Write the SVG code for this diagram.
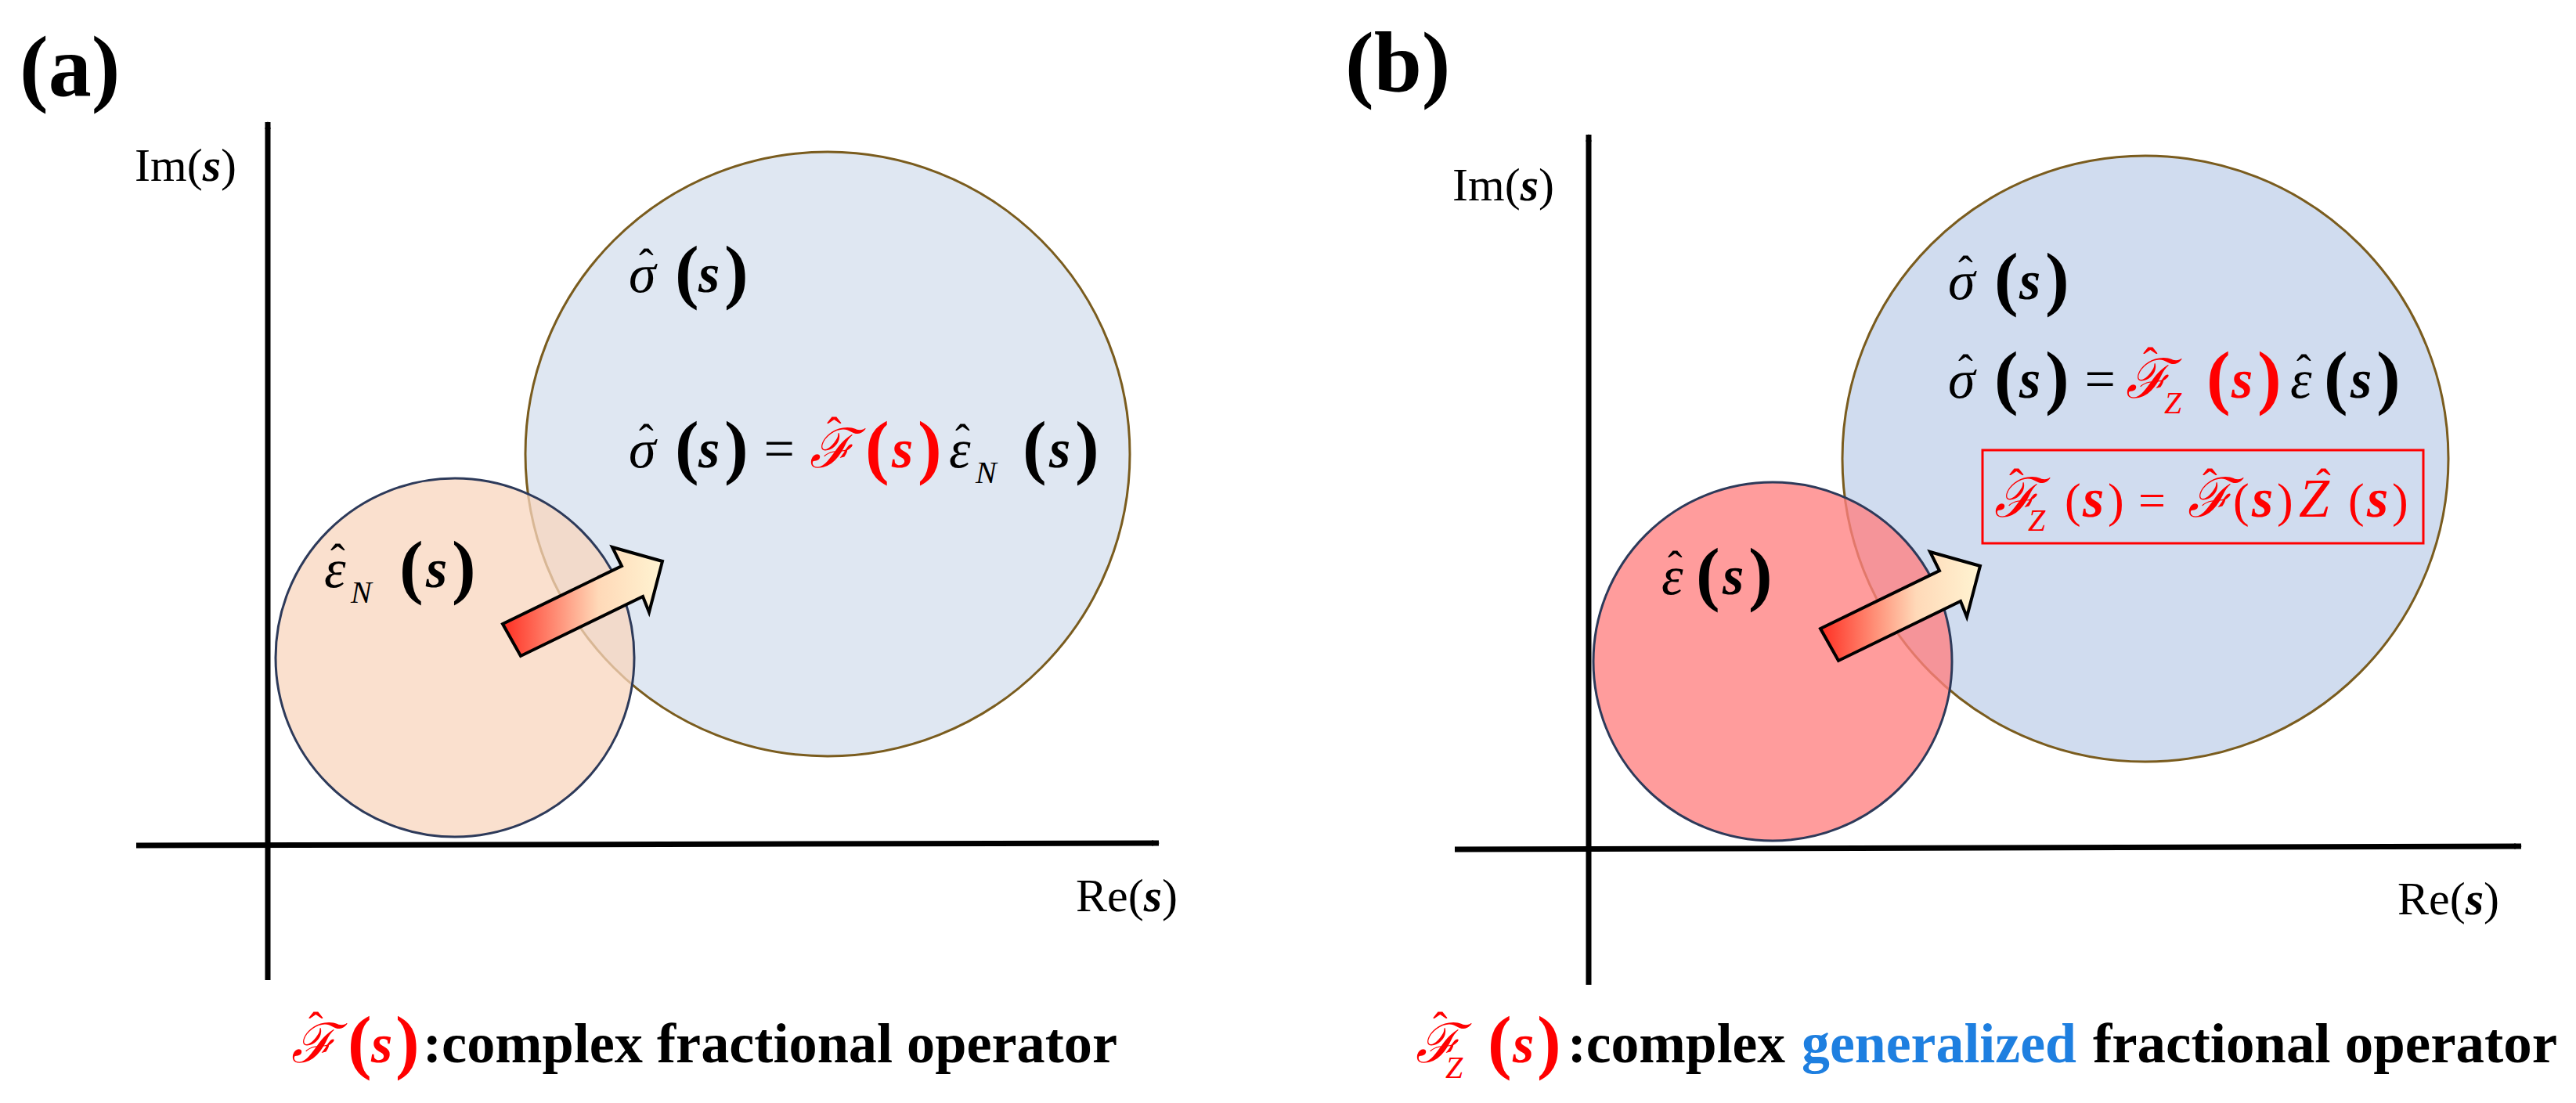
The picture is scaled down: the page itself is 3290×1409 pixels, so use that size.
<svg xmlns="http://www.w3.org/2000/svg" width="3290" height="1409" viewBox="0 0 3290 1409">
<style>
text{font-family:"Liberation Serif","Times New Roman","DejaVu Serif",serif}
.ax{stroke:#000;stroke-width:7;fill:none}
.lab{font-size:60px}
.pl{font-size:110px;font-weight:bold}
.m{font-size:70px;font-style:italic}
.p{font-size:92px;font-weight:bold}
.s{font-size:70px;font-weight:bold;font-style:italic}
.h{font-size:56px}
.sub{font-size:40px;font-style:italic}
.bt{font-size:72px;font-weight:bold}
.r{fill:#ff0000}
</style>
<defs>
<marker id="ah" markerWidth="10" markerHeight="8" refX="9" refY="4" orient="auto" markerUnits="userSpaceOnUse" viewBox="0 0 10 8"><path d="M0,0 L10,4 L0,8 L3,4z" fill="#000"/></marker>
<linearGradient id="ag" x1="0" y1="0" x2="1" y2="0" gradientUnits="objectBoundingBox"><stop offset="0" stop-color="#ff2e22"/><stop offset="0.6" stop-color="#ffd9b8"/><stop offset="1" stop-color="#fff4d2"/></linearGradient>
<path id="arr" d="M642,797 L794,723 L782,699 L846,717 L829,782 L821,762 L665,838 Z"/>
</defs>

<g id="panel-a">
<text class="pl" x="25" y="122">(a)</text>
<g id="a-sigma-circle"><circle cx="1057" cy="580" r="386" fill="#dfe7f2" stroke="#7a5c1e" stroke-width="3"/></g>
<g id="a-eps-circle"><circle cx="581" cy="840" r="229" fill="#f8d6bd" fill-opacity="0.75" stroke="#2d3a5a" stroke-width="3"/></g>
<g id="a-connectors">
<line class="ax" x1="342" y1="1252" x2="342" y2="156" marker-end="url(#ah)"/>
<line class="ax" x1="174" y1="1080" x2="1480" y2="1077" marker-end="url(#ah)"/>
<use href="#arr" fill="url(#ag)" stroke="#000" stroke-width="4"/>
</g>
<text class="lab" x="172" y="231">Im(<tspan font-weight="bold" font-style="italic">s</tspan>)</text>
<text class="lab" x="1374" y="1164">Re(<tspan font-weight="bold" font-style="italic">s</tspan>)</text>
<g id="a-sigma">
<text class="m" x="803" y="373">σ</text><text class="h" x="816" y="357">ˆ</text>
<text class="p" x="862" y="377">(</text><text class="s" x="892" y="373">s</text><text class="p" x="925" y="377">)</text>
</g>
<g id="a-eq">
<text class="m" x="803" y="597">σ</text><text class="h" x="816" y="581">ˆ</text>
<text class="p" x="862" y="601">(</text><text class="s" x="892" y="597">s</text><text class="p" x="925" y="601">)</text>
<text class="m" font-style="normal" x="971" y="597">=</text>
<text class="m r" x="1034" y="597">ℱ</text><text class="h r" x="1056" y="572">ˆ</text>
<text class="p r" x="1105" y="601">(</text><text class="s r" x="1139" y="597">s</text><text class="p r" x="1172" y="601">)</text>
<text class="m" x="1212" y="597">ε</text><text class="h" x="1220" y="581">ˆ</text><text class="sub" x="1246" y="617">N</text>
<text class="p" x="1306" y="601">(</text><text class="s" x="1340" y="597">s</text><text class="p" x="1373" y="601">)</text>
</g>
<g id="a-eps">
<text class="m" x="414" y="750">ε</text><text class="h" x="422" y="734">ˆ</text><text class="sub" x="448" y="770">N</text>
<text class="p" x="510" y="754">(</text><text class="s" x="544" y="750">s</text><text class="p" x="577" y="754">)</text>
</g>
<g id="a-caption">
<text class="m r" x="372" y="1357">ℱ</text><text class="h r" x="394" y="1332">ˆ</text>
<text class="p r" x="444" y="1361">(</text><text class="s r" x="474" y="1357">s</text><text class="p r" x="505" y="1361">)</text>
<text class="bt" x="540" y="1357" textLength="887" lengthAdjust="spacingAndGlyphs">:complex fractional operator</text>
</g>
</g>

<g id="panel-b">
<text class="pl" x="1718" y="117">(b)</text>
<g id="b-sigma-circle"><circle cx="2740" cy="586" r="387" fill="#d0dcef" stroke="#7a5c1e" stroke-width="3"/></g>
<g id="b-eps-circle"><circle cx="2264" cy="845" r="229" fill="#ff8080" fill-opacity="0.78" stroke="#2d3a5a" stroke-width="3"/></g>
<g id="b-connectors">
<line class="ax" x1="2029" y1="1258" x2="2029" y2="172" marker-end="url(#ah)"/>
<line class="ax" x1="1858" y1="1085" x2="3220" y2="1081" marker-end="url(#ah)"/>
<use href="#arr" transform="translate(1683,6)" fill="url(#ag)" stroke="#000" stroke-width="4"/>
</g>
<text class="lab" x="1855" y="256">Im(<tspan font-weight="bold" font-style="italic">s</tspan>)</text>
<text class="lab" x="3062" y="1168">Re(<tspan font-weight="bold" font-style="italic">s</tspan>)</text>
<g id="b-sigma">
<text class="m" x="2488" y="382">σ</text><text class="h" x="2501" y="366">ˆ</text>
<text class="p" x="2547" y="386">(</text><text class="s" x="2579" y="382">s</text><text class="p" x="2612" y="386">)</text>
</g>
<g id="b-eq">
<text class="m" x="2488" y="508">σ</text><text class="h" x="2501" y="492">ˆ</text>
<text class="p" x="2547" y="512">(</text><text class="s" x="2579" y="508">s</text><text class="p" x="2612" y="512">)</text>
<text class="m" font-style="normal" x="2658" y="508">=</text>
<text class="m r" x="2715" y="508">ℱ</text><text class="h r" x="2737" y="483">ˆ</text><text class="sub r" x="2764" y="528">Z</text>
<text class="p r" x="2818" y="512">(</text><text class="s r" x="2850" y="508">s</text><text class="p r" x="2883" y="512">)</text>
<text class="m" x="2925" y="508">ε</text><text class="h" x="2933" y="492">ˆ</text>
<text class="p" x="2968" y="512">(</text><text class="s" x="3002" y="508">s</text><text class="p" x="3035" y="512">)</text>
</g>
<g id="b-box">
<rect x="2532" y="575" width="563" height="119" fill="none" stroke="#ff0000" stroke-width="3"/>
<text class="m r" x="2547" y="660" font-size="62">ℱ</text><text class="h r" x="2566" y="638">ˆ</text><text class="sub r" x="2590" y="678" font-size="36">Z</text>
<text class="r" x="2637" y="660" font-size="62">(</text><text class="s r" x="2660" y="660" font-size="62">s</text><text class="r" x="2692" y="660" font-size="62">)</text>
<text class="r" x="2731" y="660" font-size="62">=</text>
<text class="m r" x="2794" y="660" font-size="62">ℱ</text><text class="h r" x="2813" y="638">ˆ</text>
<text class="r" x="2852" y="660" font-size="62">(</text><text class="s r" x="2876" y="660" font-size="62">s</text><text class="r" x="2908" y="660" font-size="62">)</text>
<text class="m r" x="2936" y="660" font-size="62">Z</text><text class="h r" x="2958" y="638">ˆ</text>
<text class="r" x="2999" y="660" font-size="62">(</text><text class="s r" x="3023" y="660" font-size="62">s</text><text class="r" x="3055" y="660" font-size="62">)</text>
</g>
<g id="b-eps">
<text class="m" x="2122" y="759">ε</text><text class="h" x="2130" y="743">ˆ</text>
<text class="p" x="2166" y="763">(</text><text class="s" x="2200" y="759">s</text><text class="p" x="2233" y="763">)</text>
</g>
<g id="b-caption">
<text class="m r" x="1808" y="1357">ℱ</text><text class="h r" x="1830" y="1332">ˆ</text><text class="sub r" x="1846" y="1377">Z</text>
<text class="p r" x="1900" y="1361">(</text><text class="s r" x="1932" y="1357">s</text><text class="p r" x="1963" y="1361">)</text>
<text class="bt" x="2002" y="1357" textLength="278" lengthAdjust="spacingAndGlyphs">:complex</text>
<text class="bt" x="2301" y="1357" fill="#1e7fe0" textLength="351" lengthAdjust="spacingAndGlyphs">generalized</text>
<text class="bt" x="2673" y="1357" textLength="593" lengthAdjust="spacingAndGlyphs">fractional operator</text>
</g>
</g>
</svg>
